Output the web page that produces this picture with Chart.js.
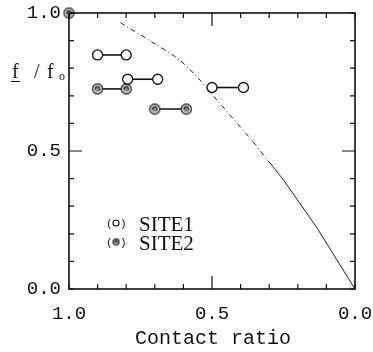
<!DOCTYPE html>
<html>
<head>
<meta charset="utf-8">
<script src="https://cdn.jsdelivr.net/npm/chart.js@4.4.1/dist/chart.umd.min.js"></script>
<style>
  body { margin: 0; background: #fff; }
  #chart { display: block; }
</style>
</head>
<body>
<canvas id="chart" width="373" height="352"></canvas>
<script>
// tick values and labels
const majorTicks = [1.0, 0.5, 0.0];
const xTickLabels = ['1.0', '0.5', '0.0'];
const yTickLabels = ['1.0', '0.5', '0.0'];
const minorTicks = [0, 0.1, 0.2, 0.3, 0.4, 0.5, 0.6, 0.7, 0.8, 0.9, 1.0];

// SITE1 pairs (contact ratio, f/fo)
const site1Pair1 = [[0.90, 0.848], [0.80, 0.848]];
const site1Pair2 = [[0.795, 0.76], [0.69, 0.76]];
const site1Pair3 = [[0.50, 0.73], [0.39, 0.73]];
// SITE2
const site2Pair1 = [[0.90, 0.725], [0.80, 0.725]];
const site2Pair2 = [[0.70, 0.652], [0.59, 0.652]];
const site2Single = [[1.0, 1.0]];

// curve, dash-dot part then solid part
const curveDashed = [[0.82, 0.965], [0.71, 0.895], [0.62, 0.835], [0.555, 0.772], [0.50, 0.705], [0.37, 0.55], [0.30, 0.46]];
const curveSolid = [[0.30, 0.46], [0.25, 0.395], [0.135, 0.225], [0.0, 0.0]];

const monoFont = '"Liberation Mono", monospace';
const serifFont = '"Liberation Serif", serif';

function pts(arr) {
  return arr.map(p => ({ x: p[0], y: p[1] }));
}

// hatched circle for SITE2
function site2Marker(r) {
  const c = document.createElement('canvas');
  const s = Math.ceil(r * 2 + 3);
  c.width = s; c.height = s;
  const g = c.getContext('2d');
  const m = s / 2;
  g.fillStyle = '#fff';
  g.beginPath(); g.arc(m, m, r, 0, Math.PI * 2); g.fill();
  g.fillStyle = '#8a8a8a';
  g.beginPath(); g.arc(m, m, r * 0.62, 0, Math.PI * 2); g.fill();
  g.strokeStyle = '#222';
  g.lineWidth = 1.1;
  g.beginPath(); g.arc(m, m, r * 0.45, Math.PI * 0.9, Math.PI * 2.2); g.stroke();
  g.lineWidth = 1.3;
  g.beginPath(); g.arc(m, m, r, 0, Math.PI * 2); g.stroke();
  return c;
}
const m2 = site2Marker(5);
const m2small = site2Marker(3);

function pairSet(data, site) {
  return {
    data: pts(data),
    showLine: true,
    borderColor: '#111',
    borderWidth: 1.6,
    pointRadius: 5,
    pointBorderWidth: 1.3,
    pointBorderColor: '#111',
    pointBackgroundColor: '#fff',
    pointStyle: site === 2 ? m2 : 'circle',
    clip: false
  };
}

function noPad(s) {
  s.paddingLeft = 0; s.paddingRight = 0;
  s.paddingTop = 0; s.paddingBottom = 0;
}

const boxTicks = {
  id: 'boxTicks',
  afterDraw(chart) {
    const ctx = chart.ctx;
    const a = chart.chartArea;
    const xs = chart.scales.x, ys = chart.scales.y;
    ctx.save();
    ctx.strokeStyle = '#111';
    ctx.lineWidth = 1.6;
    ctx.strokeRect(a.left, a.top, a.right - a.left, a.bottom - a.top);
    ctx.lineWidth = 1.2;
    minorTicks.forEach(v => {
      const major = Math.abs(v - 0.5) < 1e-6;
      const len = major ? 13 : 5;
      const px = xs.getPixelForValue(v);
      const py = ys.getPixelForValue(v);
      ctx.beginPath();
      ctx.moveTo(px, a.bottom); ctx.lineTo(px, a.bottom - len);
      ctx.moveTo(px, a.top); ctx.lineTo(px, a.top + len);
      ctx.moveTo(a.left, py); ctx.lineTo(a.left + len, py);
      ctx.moveTo(a.right, py); ctx.lineTo(a.right - len, py);
      ctx.stroke();
    });

    // y title: f /fo with the first f underlined
    ctx.fillStyle = '#111';
    ctx.textBaseline = 'alphabetic';
    ctx.textAlign = 'left';
    ctx.font = '20px ' + serifFont;
    ctx.fillText('f', 12, 78);
    ctx.fillText('/', 34, 78);
    ctx.fillText('f', 47, 78);
    ctx.font = '12px ' + serifFont;
    ctx.fillText('o', 59, 80);
    ctx.lineWidth = 1;
    ctx.beginPath(); ctx.moveTo(11, 81.5); ctx.lineTo(20, 81.5); ctx.stroke();

    // x title
    ctx.textAlign = 'center';
    ctx.font = '20px ' + monoFont;
    ctx.fillText('Contact ratio', 213, 344);

    // legend
    ctx.textAlign = 'left';
    ctx.font = '11px ' + monoFont;
    ctx.fillText('(', 106, 227);
    ctx.fillText(')', 120, 227);
    ctx.fillText('(', 106, 246);
    ctx.fillText(')', 120, 246);
    ctx.lineWidth = 1.1;
    ctx.beginPath(); ctx.arc(116, 223, 3, 0, Math.PI * 2); ctx.stroke();
    ctx.drawImage(m2small, 116 - m2small.width / 2, 242 - m2small.height / 2);
    ctx.font = '21px ' + serifFont;
    ctx.fillText('SITE1', 139, 231);
    ctx.fillText('SITE2', 139, 250);
    ctx.restore();
  }
};

new Chart(document.getElementById('chart'), {
  type: 'scatter',
  data: {
    datasets: [
      {
        data: pts(curveDashed), showLine: true, borderColor: '#222', borderWidth: 1,
        borderDash: [5, 3, 1, 3], pointRadius: 0, tension: 0.3
      },
      {
        data: pts(curveSolid), showLine: true, borderColor: '#222', borderWidth: 1,
        pointRadius: 0
      },
      pairSet(site1Pair1, 1),
      pairSet(site1Pair2, 1),
      pairSet(site1Pair3, 1),
      pairSet(site2Pair1, 2),
      pairSet(site2Pair2, 2),
      pairSet(site2Single, 2)
    ]
  },
  options: {
    responsive: false,
    animation: false,
    devicePixelRatio: 1,
    layout: { padding: { left: 0, top: 13, right: 18, bottom: 0 } },
    plugins: { legend: { display: false }, tooltip: { enabled: false } },
    scales: {
      x: {
        type: 'linear', min: 0, max: 1, reverse: true,
        afterFit(s) { s.height = 63; noPad(s); },
        afterBuildTicks(s) { s.ticks = majorTicks.map(v => ({ value: v })); },
        grid: { display: false, drawTicks: false },
        border: { display: false },
        ticks: {
          padding: 14, color: '#111', maxRotation: 0, autoSkip: false,
          font: { family: monoFont, size: 19 },
          callback: (v) => xTickLabels[majorTicks.indexOf(v)]
        }
      },
      y: {
        type: 'linear', min: 0, max: 1,
        afterFit(s) { s.width = 69; noPad(s); },
        afterBuildTicks(s) { s.ticks = majorTicks.map(v => ({ value: v })); },
        grid: { display: false, drawTicks: false },
        border: { display: false },
        ticks: {
          padding: 8, color: '#111',
          font: { family: monoFont, size: 19 },
          callback: (v) => yTickLabels[majorTicks.indexOf(v)]
        }
      }
    }
  },
  plugins: [boxTicks]
});
</script>
</body>
</html>
